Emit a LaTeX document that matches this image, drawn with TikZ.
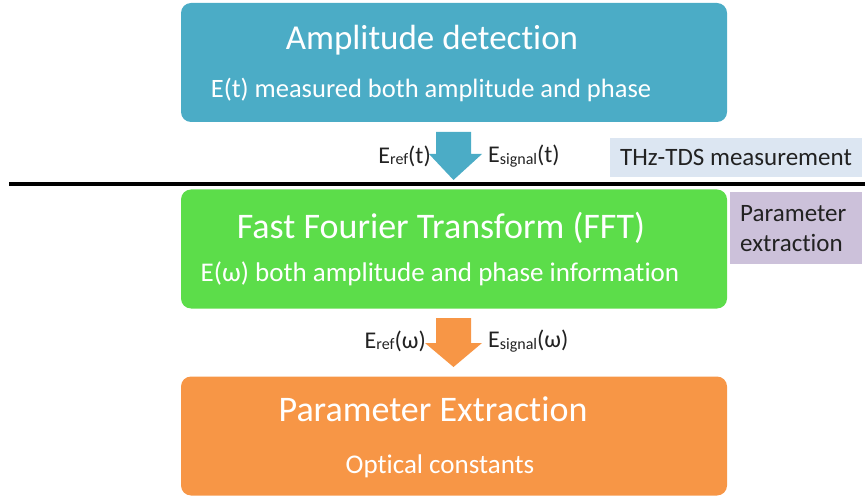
\documentclass[tikz,border=0pt]{standalone}
\usepackage{fontspec}
\setmainfont[Ligatures=NoCommon]{Carlito}
\usetikzlibrary{calc}
\definecolor{stageblue}{HTML}{4BACC6}
\definecolor{stagegreen}{HTML}{5CDD4A}
\definecolor{stageorange}{HTML}{F79646}
\definecolor{tagblue}{HTML}{DCE6F2}
\definecolor{tagpurple}{HTML}{CCC1DA}
\definecolor{labelgrey}{HTML}{222222}
\newcommand{\sz}[1]{\fontsize{#1}{1.2\dimexpr#1pt\relax}\selectfont}
\newcommand{\Esub}[2]{E{\sz{16}\raisebox{-1.5pt}{#1}}(#2)}
\tikzset{
  stage/.style={rounded corners=10pt, minimum width=546pt, minimum height=119pt, inner sep=0pt},
  title/.style={text=white, font=\sz{36}, inner sep=0pt},
  subtitle/.style={text=white, font=\sz{27}, inner sep=0pt},
  tag/.style={inner sep=0pt, font=\sz{25}, text=labelgrey},
  flowlabel/.style={inner sep=0pt, font=\sz{24}, text=labelgrey},
}
\begin{document}
\begin{tikzpicture}[x=1pt,y=-1pt]
\useasboundingbox (0,0) rectangle (865,497);

% process stages
\node[stage, fill=stageblue] (amp) at (454,62.5) {};
\node[title, font=\sz{35}] (ampT) at (432,40) {Amplitude detection};
\node[subtitle, font=\sz{26.5}] (ampS) at (431,90) {E(t) measured both amplitude and phase};

\node[stage, fill=stagegreen] (fft) at (454,249) {};
\node[title] (fftT) at (441,228) {Fast Fourier Transform (FFT)};
\node[subtitle] (fftS) at (440,274) {E(\char"03C9) both amplitude and phase information};

\node[stage, fill=stageorange] (par) at (454,436) {};
\node[title] (parT) at (433,409) {Parameter Extraction};
\node[subtitle] (parS) at (440,466) {Optical constants};

% side tags
\node[tag, fill=tagblue, minimum width=252pt, minimum height=39pt] (tds) at (736,157.5) {THz-TDS measurement};
\node[tag, fill=tagpurple, minimum width=132pt, minimum height=72pt] (pe) at (796,228) {};
\node[tag, anchor=west, align=left] (peT) at (740,229) {Parameter\\extraction};

% separator between measurement and extraction
\draw[line width=4pt] (9,184) -- (865,184);

% block arrows between stages
\fill[stageblue] (436,132) -- (471,132) -- (471,154) -- (482,154) -- (453.5,180)
  -- (429,154) -- (436,154) -- cycle;
\fill[stageorange] (436,318) -- (471,318) -- (471,343) -- (482,343) -- (453.5,367)
  -- (425,343) -- (436,343) -- cycle;

% signal labels
\node[flowlabel, anchor=east] (reft) at (431,156) {\Esub{ref}{t}};
\node[flowlabel, anchor=west] (sigt) at (488,156) {\Esub{signal}{t}};
\node[flowlabel, anchor=east] (refw) at (426,341) {\Esub{ref}{\char"03C9}};
\node[flowlabel, anchor=west] (sigw) at (488,341) {\Esub{signal}{\char"03C9}};
\end{tikzpicture}
\end{document}
